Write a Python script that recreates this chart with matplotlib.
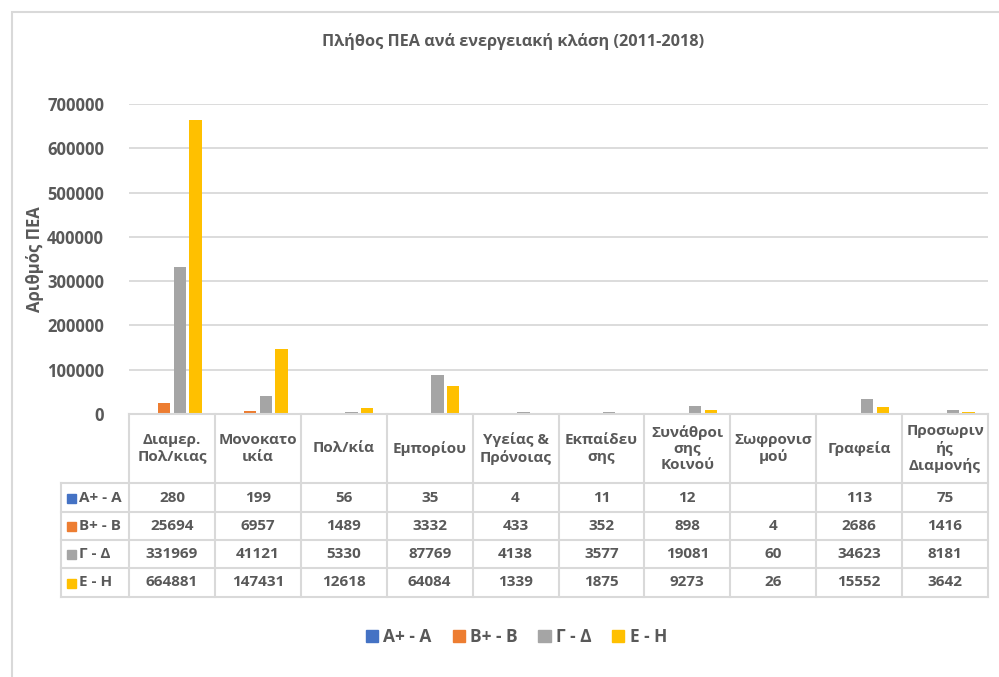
import numpy as np
import matplotlib
matplotlib.use("Agg")
import matplotlib.pyplot as plt
from matplotlib.transforms import blended_transform_factory
from matplotlib.patches import Rectangle
from matplotlib.lines import Line2D

plt.rcParams['font.family'] = ['Open Sans', 'DejaVu Sans']

categories = ['Διαμερ.\nΠολ/κιας', 'Μονοκατο\nικία', 'Πολ/κία', 'Εμπορίου',
              'Υγείας &\nΠρόνοιας', 'Εκπαίδευ\nσης', 'Συνάθροι\nσης\nΚοινού',
              'Σωφρονισ\nμού', 'Γραφεία', 'Προσωριν\nής\nΔιαμονής']
series_names = ['Α+ - Α', 'Β+ - Β', 'Γ - Δ', 'Ε - Η']
a_class = [280, 199, 56, 35, 4, 11, 12, None, 113, 75]
b_class = [25694, 6957, 1489, 3332, 433, 352, 898, 4, 2686, 1416]
c_class = [331969, 41121, 5330, 87769, 4138, 3577, 19081, 60, 34623, 8181]
e_class = [664881, 147431, 12618, 64084, 1339, 1875, 9273, 26, 15552, 3642]
series = [a_class, b_class, c_class, e_class]
colors = ['#4472C4', '#ED7D31', '#A5A5A5', '#FFC000']

W, H = 999, 677
txt = '#595959'
grid = '#D9D9D9'

fig = plt.figure(figsize=(W / 100, H / 100), dpi=100)

def fy(py):
    return 1 - py / H

# outer chart frame
fig.patches.append(Rectangle((12 / W, -0.1), 1.2, fy(12) + 0.1, transform=fig.transFigure,
                             fill=False, edgecolor=grid, linewidth=1.5))

ax = fig.add_axes([129 / W, fy(414), (988 - 129) / W, (414 - 104) / H])
n = len(categories)
x = np.arange(n) + 0.5
bw, pitch = 0.143, 0.183
for i, (vals, col) in enumerate(zip(series, colors)):
    v = [0 if s is None else s for s in vals]
    ax.bar(x + (i - 1.5) * pitch, v, width=bw, color=col, zorder=3)

ax.set_xlim(0, n)
ax.set_ylim(0, 700000)
ax.set_yticks(np.arange(0, 700001, 100000))
ax.set_yticklabels([str(t) for t in range(0, 700001, 100000)],
                   fontsize=12, fontweight='bold', color=txt)
ax.tick_params(axis='y', length=0, pad=18)
ax.set_xticks([])
ax.grid(axis='y', color=grid, linewidth=1.3, zorder=0)
for s in ax.spines.values():
    s.set_visible(False)
ax.set_ylabel('Αριθμός ΠΕΑ', fontsize=12, fontweight='bold', color=txt, labelpad=2)

fig.text(0.514, fy(42), 'Πλήθος ΠΕΑ ανά ενεργειακή κλάση (2011-2018)',
         ha='center', va='center', fontsize=11.7, fontweight='bold', color=txt)

# data table below the axis
tr = blended_transform_factory(ax.transData, fig.transFigure)
row_lines = [414, 483, 512, 540, 568, 597]
left_px = 61
x_left = ax.transData.inverted().transform((left_px, 0))[0]

def hline(x0, x1, py):
    fig.lines.append(Line2D([x0, x1], [fy(py), fy(py)], transform=tr, color=grid, lw=1.5))

def vline(xd, py0, py1):
    fig.lines.append(Line2D([xd, xd], [fy(py0), fy(py1)], transform=tr, color=grid, lw=1.5))

hline(0, n, row_lines[0])
for py in row_lines[1:]:
    hline(x_left, n, py)
for k in range(n + 1):
    vline(k, row_lines[0], row_lines[-1])
vline(x_left, row_lines[1], row_lines[-1])

for k, cat in enumerate(categories):
    fig.text(x[k], fy((row_lines[0] + row_lines[1]) / 2), cat, transform=tr,
             ha='center', va='center', fontsize=11, fontweight='bold', color=txt,
             linespacing=1.2)

for r, (name, vals, col) in enumerate(zip(series_names, series, colors)):
    yc = fy((row_lines[r + 1] + row_lines[r + 2]) / 2)
    fig.patches.append(Rectangle((67 / W, yc - 5 / H), 9 / W, 9 / H,
                                 transform=fig.transFigure, color=col))
    fig.text(79 / W, yc, name, ha='left', va='center', fontsize=11,
             fontweight='bold', color=txt)
    for k, v in enumerate(vals):
        if v is None:
            continue
        fig.text(x[k], yc, str(v), transform=tr, ha='center', va='center',
                 fontsize=11, fontweight='bold', color=txt)

handles = [Rectangle((0, 0), 1, 1, color=c) for c in colors]
fig.legend(handles, series_names, loc='center', bbox_to_anchor=(0.517, fy(637)),
           ncol=4, frameon=False, handlelength=0.7, handleheight=0.7,
           handletextpad=0.3, columnspacing=1.2,
           prop={'size': 12.5, 'weight': 'bold'}, labelcolor=txt)

fig.savefig('out.png', dpi=100)
